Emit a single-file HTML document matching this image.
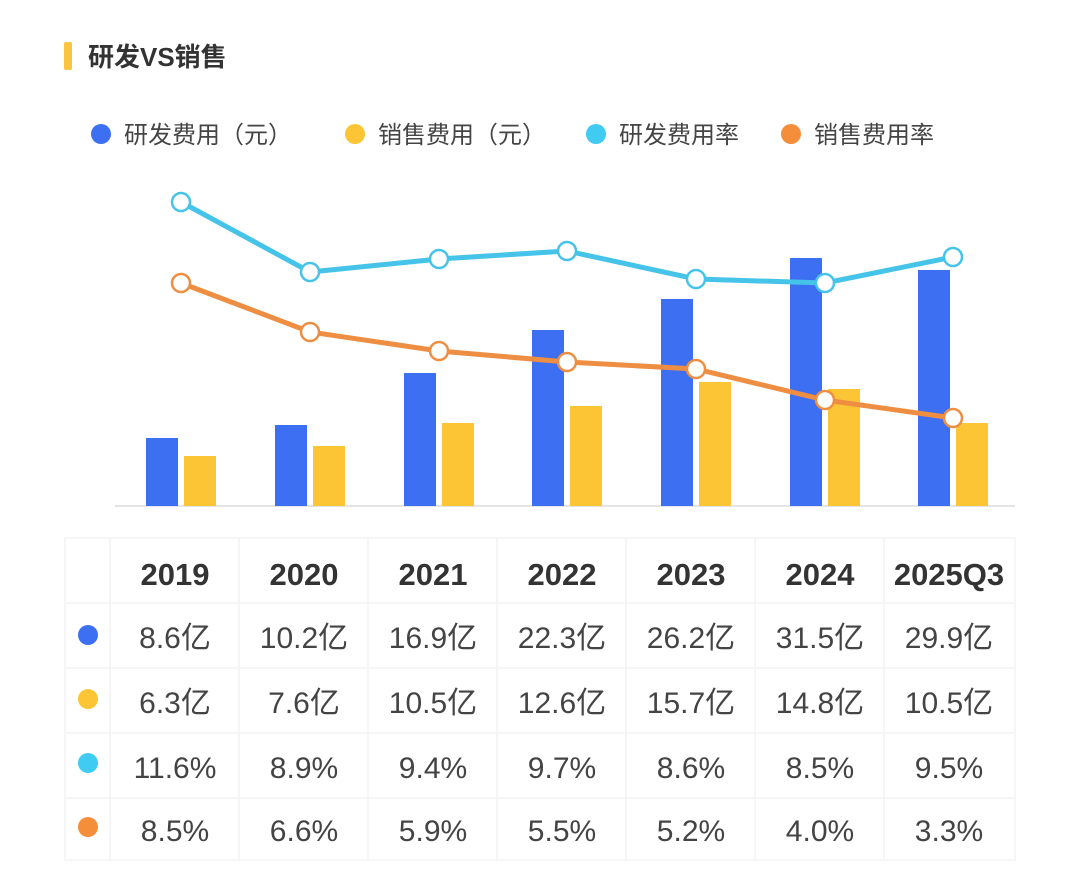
<!DOCTYPE html>
<html><head><meta charset="utf-8"><style>
body{margin:0;background:#fff;}
svg{display:block;font-family:"Liberation Sans","Noto Sans CJK SC",sans-serif;}
</style></head><body>
<svg width="1080" height="880" viewBox="0 0 1080 880">
<rect x="0" y="0" width="1080" height="880" fill="#fff"/>
<rect x="64" y="42" width="8" height="28" rx="2" fill="#F9C53E"/>
<text x="88" y="66" font-size="26" font-weight="bold" fill="#333">研发VS销售</text>
<g font-size="24" fill="#444">
<circle cx="101" cy="134" r="10" fill="#3D6FF2"/><text x="124" y="143">研发费用（元）</text>
<circle cx="355" cy="134" r="10" fill="#FBC536"/><text x="378" y="143">销售费用（元）</text>
<circle cx="596" cy="134" r="10" fill="#3FCBF2"/><text x="619" y="143">研发费用率</text>
<circle cx="791" cy="134" r="10" fill="#F58E3B"/><text x="814" y="143">销售费用率</text>
</g>
<line x1="115" y1="506" x2="1015" y2="506" stroke="#e4e4e4" stroke-width="2"/>
<g fill="#3D6FF2">
<rect x="146" y="438" width="32" height="68"/>
<rect x="275" y="425" width="32" height="81"/>
<rect x="404" y="373" width="32" height="133"/>
<rect x="532" y="330" width="32" height="176"/>
<rect x="661" y="299" width="32" height="207"/>
<rect x="790" y="258" width="32" height="248"/>
<rect x="918" y="270" width="32" height="236"/>
</g>
<g fill="#FBC536">
<rect x="184" y="456" width="32" height="50"/>
<rect x="313" y="446" width="32" height="60"/>
<rect x="442" y="423" width="32" height="83"/>
<rect x="570" y="406" width="32" height="100"/>
<rect x="699" y="382" width="32" height="124"/>
<rect x="828" y="389" width="32" height="117"/>
<rect x="956" y="423" width="32" height="83"/>
</g>
<polyline points="181,202 310,272 439,259 567,251 696,279 825,283 953,257" fill="none" stroke="#45C3E8" stroke-width="5"/>
<polyline points="181,283 310,332 439,351 567,362 696,369 825,400 953,418" fill="none" stroke="#EE8E42" stroke-width="5"/>
<g fill="#fff" stroke="#45C3E8" stroke-width="2.5">
<circle cx="181" cy="202" r="9"/><circle cx="310" cy="272" r="9"/><circle cx="439" cy="259" r="9"/><circle cx="567" cy="251" r="9"/><circle cx="696" cy="279" r="9"/><circle cx="825" cy="283" r="9"/><circle cx="953" cy="257" r="9"/>
</g>
<g fill="#fff" stroke="#EE8E42" stroke-width="2.5">
<circle cx="181" cy="283" r="9"/><circle cx="310" cy="332" r="9"/><circle cx="439" cy="351" r="9"/><circle cx="567" cy="362" r="9"/><circle cx="696" cy="369" r="9"/><circle cx="825" cy="400" r="9"/><circle cx="953" cy="418" r="9"/>
</g>
<g stroke="#f4f4f4" stroke-width="1.5" fill="none">
<rect x="65" y="538" width="950" height="322"/>
<line x1="65" y1="603" x2="1015" y2="603"/><line x1="65" y1="668" x2="1015" y2="668"/><line x1="65" y1="733" x2="1015" y2="733"/><line x1="65" y1="798" x2="1015" y2="798"/>
<line x1="110" y1="538" x2="110" y2="860"/><line x1="239" y1="538" x2="239" y2="860"/><line x1="368" y1="538" x2="368" y2="860"/><line x1="497" y1="538" x2="497" y2="860"/><line x1="626" y1="538" x2="626" y2="860"/><line x1="755" y1="538" x2="755" y2="860"/><line x1="884" y1="538" x2="884" y2="860"/>
</g>
<circle cx="88" cy="635" r="10" fill="#3D6FF2"/>
<circle cx="88" cy="699" r="10" fill="#FBC536"/>
<circle cx="88" cy="763" r="10" fill="#3FCBF2"/>
<circle cx="88" cy="827" r="10" fill="#F58E3B"/>
<g font-size="31" font-weight="bold" fill="#333" text-anchor="middle">
<text x="175" y="585">2019</text><text x="304" y="585">2020</text><text x="433" y="585">2021</text><text x="562" y="585">2022</text><text x="691" y="585">2023</text><text x="820" y="585">2024</text><text x="949" y="585">2025Q3</text>
</g>
<g font-size="30" fill="#444" text-anchor="middle">
<text x="175" y="648">8.6亿</text><text x="304" y="648">10.2亿</text><text x="433" y="648">16.9亿</text><text x="562" y="648">22.3亿</text><text x="691" y="648">26.2亿</text><text x="820" y="648">31.5亿</text><text x="949" y="648">29.9亿</text>
<text x="175" y="713">6.3亿</text><text x="304" y="713">7.6亿</text><text x="433" y="713">10.5亿</text><text x="562" y="713">12.6亿</text><text x="691" y="713">15.7亿</text><text x="820" y="713">14.8亿</text><text x="949" y="713">10.5亿</text>
<text x="175" y="778">11.6%</text><text x="304" y="778">8.9%</text><text x="433" y="778">9.4%</text><text x="562" y="778">9.7%</text><text x="691" y="778">8.6%</text><text x="820" y="778">8.5%</text><text x="949" y="778">9.5%</text>
<text x="175" y="841">8.5%</text><text x="304" y="841">6.6%</text><text x="433" y="841">5.9%</text><text x="562" y="841">5.5%</text><text x="691" y="841">5.2%</text><text x="820" y="841">4.0%</text><text x="949" y="841">3.3%</text>
</g>
</svg>
</body></html>
